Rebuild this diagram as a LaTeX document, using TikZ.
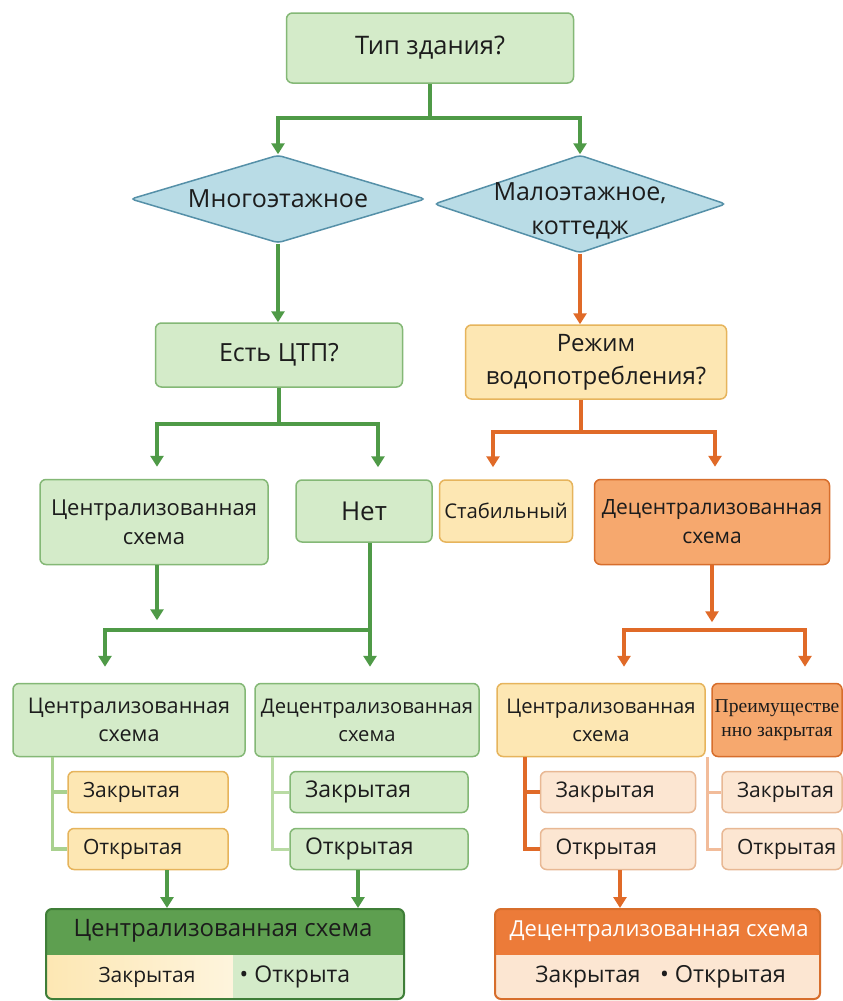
\documentclass[tikz,border=0pt]{standalone}
\usepackage{fontspec}
\setmainfont{Open Sans}
\newfontfamily\serifx{Liberation Serif}
\usetikzlibrary{shapes.geometric,arrows.meta,calc}
\definecolor{gfill}{HTML}{D4EBC9}
\definecolor{gdraw}{HTML}{84B876}
\definecolor{gline}{HTML}{4F9A47}
\definecolor{glight}{HTML}{A9D18F}
\definecolor{glighter}{HTML}{B9DBA4}
\definecolor{bfill}{HTML}{B9DCE6}
\definecolor{bdraw}{HTML}{5590A8}
\definecolor{yfill}{HTML}{FDE7B3}
\definecolor{ydraw}{HTML}{E6B45C}
\definecolor{ofill}{HTML}{F6A86E}
\definecolor{odraw}{HTML}{D76E2C}
\definecolor{oline}{HTML}{E06A28}
\definecolor{olight}{HTML}{F2BC9A}
\definecolor{pfill}{HTML}{FCE6D2}
\definecolor{pdraw}{HTML}{E8B894}
\definecolor{hgreen}{HTML}{5E9F50}
\definecolor{hgreendraw}{HTML}{3F7E38}
\definecolor{horange}{HTML}{EC7B39}
\definecolor{txt}{HTML}{1C1C1C}
\newcommand\fsz[2]{\fontsize{#1}{#2}\selectfont}
\begin{document}
\begin{tikzpicture}[x=1pt,y=-1pt,
  font=\fsz{21}{28}, text=txt,
  box/.style={rounded corners=6pt, line width=1.5pt, align=center, inner sep=2pt},
  gbox/.style={box, fill=gfill, draw=gdraw},
  ybox/.style={box, fill=yfill, draw=ydraw},
  obox/.style={box, fill=ofill, draw=odraw},
  pbox/.style={box, fill=pfill, draw=pdraw},
  leaf/.style={text width=#1, align=left, inner xsep=15pt, inner ysep=0pt, minimum height=41pt},
  dia/.style={shape=diamond, fill=bfill, draw=bdraw, line width=1.5pt, inner sep=0pt, rounded corners=4pt},
  gl/.style={draw=gline, line width=3.5pt},
  ol/.style={draw=oline, line width=3.5pt},
  ga/.style={-{Triangle[width=13pt,length=11pt]}},
  glt/.style={draw=glight, line width=3.5pt},
  glt2/.style={draw=glighter, line width=3pt},
  olt/.style={draw=oline, line width=4pt},
  olt2/.style={draw=olight, line width=3pt}
]
\useasboundingbox[fill=white] (0,0) rectangle (843,1001);

% level 0-1
\node[gbox, minimum width=287pt, minimum height=70pt, font=\fsz{25.5}{30}] (top) at (430,48) {Тип здания?};
\node[dia, minimum width=295pt, minimum height=88pt] (d1) at (278,199) {};
\node[font=\fsz{25}{30}] (d1t) at (d1.center) {Многоэтажное};
\node[dia, minimum width=292pt, minimum height=98pt] (d2) at (580,204) {};
\node[align=center, font=\fsz{25}{34}] (d2t) at (580,211) {Малоэтажное,\\коттедж};

% level 2
\node[gbox, minimum width=247pt, minimum height=64pt, font=\fsz{25}{30}] (ctp) at (279,355) {Есть ЦТП?};
\node[ybox, minimum width=261pt, minimum height=74pt, font=\fsz{24}{33}] (rez) at (596,362) {Режим\\водопотребления?};

% level 3
\node[gbox, minimum width=228pt, minimum height=85pt, font=\fsz{22}{29}] (c1) at (154,522) {Централизованная\\схема};
\node[gbox, minimum width=136pt, minimum height=62pt, font=\fsz{26}{30}] (net) at (364,511) {Нет};
\node[ybox, minimum width=133pt, minimum height=62pt, font=\fsz{20.3}{26}] (stab) at (506,511) {Стабильный};
\node[obox, minimum width=235pt, minimum height=85pt, font=\fsz{21}{29}] (dc1) at (712,522) {Децентрализованная\\схема};

% level 4
\node[gbox, minimum width=232pt, minimum height=73pt, font=\fsz{21.6}{28}] (c2) at (129,720) {Централизованная\\схема};
\node[gbox, minimum width=224pt, minimum height=73pt, font=\fsz{20.2}{28}] (dc2) at (367,720) {Децентрализованная\\схема};
\node[ybox, minimum width=208pt, minimum height=73pt, font=\fsz{20.2}{28}] (c3) at (601,720) {Централизованная\\схема};
\node[obox, minimum width=130pt, minimum height=73pt, font=\serifx\fsz{19.6}{24}] (pz) at (777,720) {Преимуществе\\нно закрытая};

% leaves
\node[ybox, leaf=130pt] (z1) at (148,792) {Закрытая};
\node[ybox, leaf=130pt] (o1) at (148,849) {Открытая};
\node[gbox, leaf=148pt, font=\fsz{23}{28}] (z2) at (379,792) {Закрытая};
\node[gbox, leaf=148pt, font=\fsz{23}{28}] (o2) at (379,849) {Открытая};
\node[pbox, leaf=125pt, font=\fsz{21.5}{28}] (z3) at (618,792) {Закрытая};
\node[pbox, leaf=125pt, font=\fsz{21.5}{28}] (o3) at (618,849) {Открытая};
\node[pbox, leaf=90pt] (z4) at (782,792) {Закрытая};
\node[pbox, leaf=90pt] (o4) at (782,849) {Открытая};

% bottom boxes
\begin{scope}
  \clip[rounded corners=6pt] (46,909) rectangle (404,999);
  \fill[hgreen] (46,909) rectangle (404,955);
  \shade[left color=yfill, right color=yfill!45] (46,955) rectangle (233,999);
  \fill[gfill] (233,955) rectangle (404,999);
\end{scope}
\node[draw=hgreendraw, line width=2pt, rounded corners=6pt, minimum width=358pt, minimum height=90pt] (b1) at (225,954) {};
\node[font=\fsz{24}{28}] (b1h) at (223,931) {Централизованная схема};
\node (b1z) at (147,977) {Закрытая};
\node[font=\fsz{23}{28}] (b1o) at (295,977) {• Открыта};

\begin{scope}
  \clip[rounded corners=6pt] (495,909) rectangle (820,999);
  \fill[horange] (495,909) rectangle (820,955);
  \fill[pfill] (495,955) rectangle (820,999);
\end{scope}
\node[draw=odraw, line width=2pt, rounded corners=6pt, minimum width=325pt, minimum height=90pt] (b2) at (657.5,954) {};
\node[text=white, font=\fsz{22}{28}] (b2h) at (659,931) {Децентрализованная схема};
\node[font=\fsz{22.8}{28}] (b2z) at (588,977) {Закрытая};
\node[font=\fsz{23.5}{28}] (b2o) at (723,977) {• Открытая};

% connectors level 0-2
\coordinate (j1) at (430,118);
\draw[gl] (top.south) -- (j1);
\draw[gl,ga] (j1) -| (d1.north);
\draw[gl,ga] (j1) -| (d2.north);
\draw[gl,ga] (d1.south) -- (d1.south |- ctp.north);
\draw[ol,ga] (d2.south) -- (d2.south |- rez.north);

% level 2-3
\coordinate (j2) at (279,424);
\draw[gl] (ctp.south) -- (j2);
\draw[gl,ga,shorten >=12pt] (j2) -| ([xshift=3pt]c1.north);
\draw[gl,ga,shorten >=12pt] (j2) -| ([xshift=14pt]net.north);
\coordinate (j3) at (581,432);
\draw[ol] (j3 |- rez.south) -- (j3);
\draw[ol,ga,shorten >=12pt] (j3) -| ([xshift=-13pt]stab.north);
\draw[ol,ga,shorten >=12pt] (j3) -| ([xshift=3pt]dc1.north);

% level 3-4
\coordinate (j4) at (370,630);
\draw[gl,ga] ([xshift=3pt]c1.south) -- ++(0,55);
\draw[gl,ga,shorten >=16pt] ([xshift=6pt]net.south) -- (j4 |- dc2.north);
\draw[gl,ga,shorten >=16pt] (j4) -| ([xshift=-24pt]c2.north);
\coordinate (j5) at (713,630);
\draw[ol,ga] (dc1.south) -- ++(0,57);
\draw[ol,ga,shorten >=16pt] (j5) -| ([xshift=23pt]c3.north);
\draw[ol,ga,shorten >=16pt] (j5) -| ([xshift=28pt]pz.north);

% trees
\coordinate (tr1) at ([xshift=-15pt]z1.west);
\draw[glt] (tr1 |- c2.south) |- (o1.west);
\draw[glt] (tr1) -- (z1.west);
\coordinate (tr2) at ([xshift=-17pt]z2.west);
\draw[glt2] (tr2 |- dc2.south) |- (o2.west);
\draw[glt2] (tr2) -- (z2.west);
\coordinate (tr3) at ([xshift=-15pt]z3.west);
\draw[olt] (tr3 |- c3.south) |- (o3.west);
\draw[olt] (tr3) -- (z3.west);
\coordinate (tr4) at ([xshift=-14pt]z4.west);
\draw[olt2] (tr4 |- pz.south) |- (o4.west);
\draw[olt2] (tr4) -- (z4.west);

% to bottom boxes
\coordinate (a1) at ([xshift=19pt]o1.south);
\draw[gl,ga,line width=4.5pt] (a1) -- (a1 |- b1.north);
\coordinate (a2) at ([xshift=-21pt]o2.south);
\draw[gl,ga,line width=4.5pt] (a2) -- (a2 |- b1.north);
\coordinate (a3) at ([xshift=2pt]o3.south);
\draw[ol,ga,line width=4.5pt] (a3) -- (a3 |- b2.north);
\end{tikzpicture}
\end{document}
